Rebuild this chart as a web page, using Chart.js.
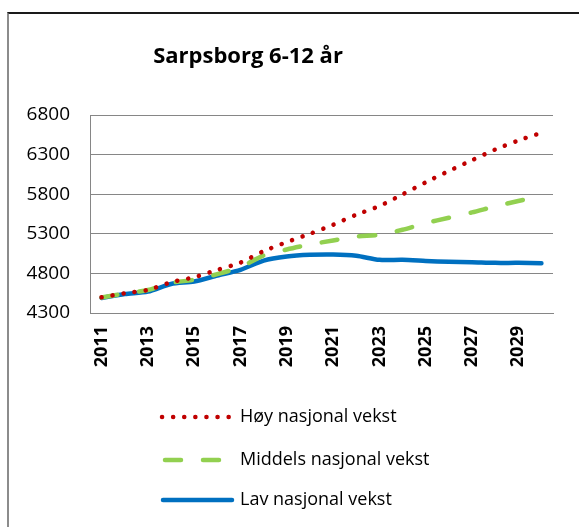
<!DOCTYPE html>
<html>
<head>
<meta charset="utf-8">
<script src="https://cdn.jsdelivr.net/npm/chart.js@4"></script>
<style>
    html, body { margin: 0; padding: 0; background: #ffffff; }
    #wrap {
        position: absolute; left: 0; top: 0; width: 579px; height: 527px;
    }
    #frame {
        position: absolute; left: 7px; top: 12px; width: 580px; height: 530px;
        border-left: 2px solid #8c8c8c; border-top: 2px solid #1a1a1a;
    }
    canvas { position: absolute; left: 0; top: 0; }
</style>
</head>
<body>
<div id="wrap">
    <div id="frame"></div>
    <canvas id="chart" width="579" height="527"></canvas>
</div>
<script>
    // Data
    const years = ['2011', '2012', '2013', '2014', '2015', '2016', '2017', '2018', '2019', '2020',
                   '2021', '2022', '2023', '2024', '2025', '2026', '2027', '2028', '2029', '2030'];
    const hoyVekst = [4498, 4549, 4591, 4688, 4752, 4844, 4937, 5081, 5195, 5300,
                      5414, 5541, 5650, 5798, 5950, 6093, 6229, 6364, 6478, 6575];
    const middelsVekst = [4495, 4545, 4590, 4680, 4720, 4790, 4880, 5026, 5102, 5165,
                          5216, 5266, 5287, 5351, 5435, 5503, 5570, 5646, 5714, 5773];
    const lavVekst = [4490, 4540, 4570, 4667, 4697, 4773, 4845, 4962, 5013, 5034,
                      5038, 5022, 4971, 4971, 4958, 4946, 4941, 4933, 4933, 4929];
    const yTicks = [4300, 4800, 5300, 5800, 6300, 6800];
    const seriesNames = ['Høy nasjonal vekst', 'Middels nasjonal vekst', 'Lav nasjonal vekst'];
    const chartTitle = 'Sarpsborg 6-12 år';

    const fontFamily = '"Open Sans", "Noto Sans", sans-serif';

    // Tittel tegnes manuelt (Excel plasserer den til venstre for midten)
    const titlePlugin = {
        id: 'excelTitle',
        afterDraw(chart) {
            const ctx = chart.ctx;
            ctx.save();
            ctx.font = 'bold 22px ' + fontFamily;
            ctx.fillStyle = '#000000';
            ctx.textAlign = 'center';
            ctx.textBaseline = 'middle';
            ctx.fillText(chartTitle, 248, 57);
            ctx.restore();
        }
    };

    // Loddrett legend under diagrammet
    const legendPlugin = {
        id: 'excelLegend',
        afterDraw(chart) {
            const ctx = chart.ctx;
            const rows = [417, 460, 500];
            chart.data.datasets.forEach((ds, i) => {
                const y = rows[i];
                ctx.save();
                ctx.strokeStyle = ds.borderColor;
                ctx.lineWidth = ds.borderWidth;
                ctx.lineCap = ds.borderCapStyle || 'butt';
                ctx.setLineDash(ds.borderDash || []);
                ctx.beginPath();
                if (i === 0) {
                    ctx.moveTo(162, y);
                    ctx.lineTo(230, y);
                } else if (i === 1) {
                    ctx.moveTo(165, y);
                    ctx.lineTo(232, y);
                } else {
                    ctx.moveTo(163, y);
                    ctx.lineTo(232, y);
                }
                ctx.stroke();
                ctx.setLineDash([]);
                ctx.fillStyle = '#000000';
                ctx.font = '18px ' + fontFamily;
                ctx.textAlign = 'left';
                ctx.textBaseline = 'middle';
                ctx.fillText(ds.label, 240, y);
                ctx.restore();
            });
        }
    };

    function initChart() {
        const ctx = document.getElementById('chart').getContext('2d');
        new Chart(ctx, {
            type: 'line',
            data: {
                labels: years,
                datasets: [{
                    label: seriesNames[0],
                    data: hoyVekst,
                    borderColor: '#C00000',
                    borderWidth: 4.5,
                    borderDash: [0.1, 11],
                    borderCapStyle: 'round',
                    pointRadius: 0,
                    tension: 0.25,
                    fill: false
                }, {
                    label: seriesNames[1],
                    data: middelsVekst,
                    borderColor: '#92D050',
                    borderWidth: 4.5,
                    borderDash: [16, 22],
                    borderCapStyle: 'round',
                    pointRadius: 0,
                    tension: 0.25,
                    fill: false
                }, {
                    label: seriesNames[2],
                    data: lavVekst,
                    borderColor: '#0070C0',
                    borderWidth: 4.5,
                    borderCapStyle: 'round',
                    pointRadius: 0,
                    tension: 0.25,
                    fill: false
                }]
            },
            options: {
                responsive: false,
                animation: false,
                layout: {
                    padding: { left: 0, right: 26, top: 115, bottom: 0 }
                },
                plugins: {
                    legend: { display: false },
                    title: { display: false },
                    tooltip: { enabled: false }
                },
                scales: {
                    x: {
                        offset: true,
                        afterFit(scale) { scale.height = 214; },
                        grid: { display: false, drawTicks: false },
                        border: { display: true, color: '#868686', width: 1 },
                        ticks: {
                            autoSkip: false,
                            maxRotation: 90,
                            minRotation: 90,
                            padding: 13,
                            color: '#000000',
                            font: { family: fontFamily, size: 18, weight: 'bold' },
                            callback: function(value, index) {
                                return index % 2 === 0 ? years[index] : '';
                            }
                        }
                    },
                    y: {
                        min: yTicks[0],
                        max: yTicks[yTicks.length - 1],
                        afterFit(scale) { scale.width = 90; },
                        afterBuildTicks(scale) {
                            scale.ticks = yTicks.map(v => ({ value: v }));
                        },
                        grid: { color: '#868686', lineWidth: 1, drawTicks: false },
                        border: { display: true, color: '#868686', width: 1 },
                        ticks: {
                            padding: 20,
                            color: '#000000',
                            font: { family: fontFamily, size: 19 },
                            callback: function(value) {
                                return String(value);
                            }
                        }
                    }
                }
            },
            plugins: [titlePlugin, legendPlugin]
        });
    }

    window.addEventListener('load', initChart);
</script>
</body>
</html>
